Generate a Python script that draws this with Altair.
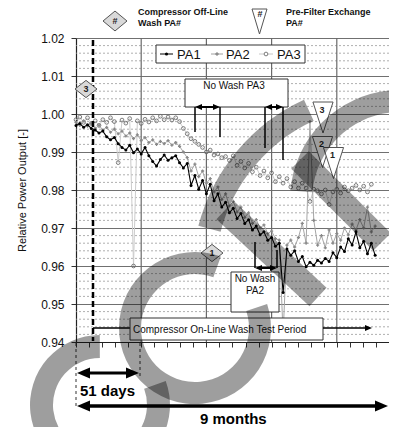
import altair as alt
import pandas as pd

# ---------------- data ----------------
day_pa12 = list(range(0, 235, 3))
pa1 = [0.9970, 0.9975, 0.9965, 0.9972, 0.9962, 0.9958, 0.9950, 0.9955, 0.9940, 0.9932,
       0.9938, 0.9922, 0.9912, 0.9905, 0.9918, 0.9898, 0.9908, 0.9895, 0.9912, 0.9890,
       0.9875, 0.9863, 0.9880, 0.9892, 0.9878, 0.9885, 0.9890, 0.9872, 0.9858, 0.9870,
       0.9812, 0.9838, 0.9802, 0.9825, 0.9790, 0.9815, 0.9772, 0.9790, 0.9755, 0.9768,
       0.9740, 0.9752, 0.9725, 0.9738, 0.9712, 0.9722, 0.9695, 0.9705, 0.9682, 0.9690,
       0.9668, 0.9675, 0.9652, 0.9660, 0.9530, 0.9645, 0.9628, 0.9640, 0.9612, 0.9625,
       0.9598, 0.9610, 0.9602, 0.9615, 0.9608, 0.9620, 0.9612, 0.9635, 0.9622, 0.9650,
       0.9638, 0.9672, 0.9655, 0.9690, 0.9648, 0.9665, 0.9632, 0.9660, 0.9628]
pa2 = [0.9978, 0.9970, 0.9982, 0.9968, 0.9975, 0.9962, 0.9970, 0.9958, 0.9965, 0.9952,
       0.9960, 0.9948, 0.9955, 0.9942, 0.9950, 0.9935, 0.9945, 0.9930, 0.9938, 0.9925,
       0.9932, 0.9920, 0.9928, 0.9922, 0.9930, 0.9918, 0.9925, 0.9915, 0.9900, 0.9885,
       0.9850, 0.9868, 0.9835, 0.9850, 0.9818, 0.9830, 0.9795, 0.9808, 0.9775, 0.9790,
       0.9758, 0.9770, 0.9742, 0.9755, 0.9728, 0.9740, 0.9712, 0.9722, 0.9700, 0.9708,
       0.9685, 0.9692, 0.9672, 0.9668, 0.9420, 0.9655, 0.9668, 0.9650, 0.9675, 0.9712,
       0.9660, 0.9980, 0.9720, 0.9655, 0.9680, 0.9648, 0.9695, 0.9660, 0.9685, 0.9668,
       0.9700, 0.9682, 0.9710, 0.9695, 0.9722, 0.9700, 0.9755, 0.9690, 0.9705]
day_pa3 = list(range(0, 232, 3))
pa3 = [0.9985, 0.9992, 0.9978, 0.9990, 0.9975, 0.9982, 0.9970, 0.9985, 0.9978, 0.9990,
       0.9980, 0.9872, 0.9984, 0.9976, 0.9988, 0.9600, 0.9982, 0.9975, 0.9986, 0.9979,
       0.9990, 0.9982, 0.9994, 0.9985, 0.9992, 0.9984, 0.9990, 0.9980, 0.9962, 0.9948,
       0.9935, 0.9928, 0.9920, 0.9912, 0.9900, 0.9905, 0.9892, 0.9895, 0.9885, 0.9888,
       0.9878, 0.9890, 0.9865, 0.9875, 0.9858, 0.9870, 0.9848, 0.9860, 0.9838, 0.9850,
       0.9832, 0.9845, 0.9822, 0.9835, 0.9818, 0.9830, 0.9808, 0.9822, 0.9805, 0.9818,
       0.9805, 0.9770, 0.9802, 0.9798, 0.9790, 0.9800, 0.9762, 0.9795, 0.9802, 0.9792,
       0.9808, 0.9798, 0.9805, 0.9812, 0.9800, 0.9810, 0.9795, 0.9815]
assert len(pa1) == len(day_pa12) and len(pa2) == len(day_pa12) and len(pa3) == len(day_pa3)

y_major = [0.94, 0.95, 0.96, 0.97, 0.98, 0.99, 1.00, 1.01, 1.02]
y_minor = [round(0.94 + 0.002 * k, 3) for k in range(41) if k % 5]
x_major = [51, 102, 153, 204]
x_ticks = [round(10.2 * k, 1) for k in range(24)]

# ---------------- layout ----------------
FONT = "Liberation Sans"
W, H = 313, 304
X0, Y0 = 76, 38
PX_PER_DAY = 65.2 / 51

xsc = alt.Scale(domain=[0, W / PX_PER_DAY], nice=False, zero=False)
ysc = alt.Scale(domain=[0.94, 1.02], nice=False, zero=False)

x_axis = alt.Axis(values=x_ticks, labels=False, grid=False, ticks=True, tickSize=5,
                  tickColor="#333", tickWidth=1, domainColor="#222", domainWidth=1.2, title=None)
y_axis = alt.Axis(values=y_major, format=".2f", grid=True, gridColor="#707070", gridWidth=1.2,
                  tickSize=5, tickColor="#333", domainColor="#222", domainWidth=1.2,
                  labelFont=FONT, labelFontSize=12, labelColor="#111", labelPadding=7,
                  title="Relative Power Output [-]", titleFont=FONT, titleFontSize=11,
                  titleFontWeight="normal", titleColor="#111", titleX=-54, titleY=152,
                  titleAngle=270, titleAlign="center", titleBaseline="middle")


def X(f):
    return alt.X(f, type="quantitative", scale=xsc, axis=x_axis)


def Y(f):
    return alt.Y(f, type="quantitative", scale=ysc, axis=y_axis)


one = pd.DataFrame({"k": [0]})


def P(x):
    return x - X0


def Q(y):
    return y - Y0


def rule(x1, y1, x2, y2, color="#000", w=1.0, dash=None, opacity=1.0):
    props = dict(color=color, strokeWidth=w, opacity=opacity)
    if dash:
        props["strokeDash"] = dash
    return alt.Chart(one).mark_rule(**props).encode(
        x=alt.value(P(x1)), x2=alt.value(P(x2)), y=alt.value(Q(y1)), y2=alt.value(Q(y2)))


def txt(s, x, y, size=10, weight="normal", align="left", color="#111"):
    return alt.Chart(one).mark_text(text=s, font=FONT, fontSize=size, fontWeight=weight,
                                    align=align, baseline="middle", color=color).encode(
        x=alt.value(P(x)), y=alt.value(Q(y)))


def shape(path, x, y, size, fill, stroke="#555", sw=1.0):
    return alt.Chart(one).mark_point(shape=path, size=size, filled=True, fill=fill, stroke=stroke,
                                     strokeWidth=sw, opacity=1, fillOpacity=1).encode(
        x=alt.value(P(x)), y=alt.value(Q(y)))


def box(x1, y1, x2, y2, fill="white", stroke="#333", sw=1.0):
    return alt.Chart(one).mark_rect(fill=fill, stroke=stroke, strokeWidth=sw, opacity=1).encode(
        x=alt.value(P(x1)), x2=alt.value(P(x2)), y=alt.value(Q(y1)), y2=alt.value(Q(y2)))


WM_COLOR, WM_OP = "#000000", 0.38


def ring(cx, cy, r1, r2, t1, t2):
    return alt.Chart(one).mark_arc(radius=r2, radius2=r1, theta=t1, theta2=t2,
                                   color=WM_COLOR, opacity=WM_OP).encode(
        x=alt.value(P(cx)), y=alt.value(Q(cy)))


def band(x1, y1, x2, y2, w):
    return alt.Chart(one).mark_rule(color=WM_COLOR, opacity=WM_OP, strokeWidth=w,
                                    strokeCap="butt").encode(
        x=alt.value(P(x1)), x2=alt.value(P(x2)), y=alt.value(Q(y1)), y2=alt.value(Q(y2)))


HEAD_R = "M1,0L-1,-0.85L-1,0.85Z"
HEAD_L = "M-1,0L1,-0.85L1,0.85Z"
DIAM_TOP = "M0,-0.83L1,0L0,0.83L-1,0Z"
DIAM = "M0,-0.78L1,0L0,0.78L-1,0Z"
TRI_TOP = "M-0.6,-1L0.6,-1L0,1Z"
TRI = "M-0.65,-1L0.65,-1L0,1Z"


def harrow(x1, x2, y, w, r, left=True):
    s = (2 * r) ** 2
    out = [rule(x1 + (r if left else 0), y, x2 - r, y, "#000", w),
           shape(HEAD_R, x2 - r, y, s, "#000", "#000", 0)]
    if left:
        out.append(shape(HEAD_L, x1 + r, y, s, "#000", "#000", 0))
    return out


# ---------------- data layers ----------------
df12 = pd.DataFrame({"day": day_pa12, "PA1": pa1, "PA2": pa2})
df3 = pd.DataFrame({"day": day_pa3, "PA3": pa3})
dmin = pd.DataFrame({"v": y_minor})
dvg = pd.DataFrame({"g": x_major})

layers = [
    alt.Chart(df12).mark_line(color="#000000", strokeWidth=1.1, opacity=0).encode(
        x=X("day"), y=Y("PA1")),
    alt.Chart(dmin).mark_rule(color="#9a9a9a", strokeWidth=0.8, strokeDash=[2, 2]).encode(y=Y("v")),
    alt.Chart(dvg).mark_rule(color="#6a6a6a", strokeWidth=1.2).encode(x=X("g")),
    alt.Chart(df3).mark_line(color="#cccccc", strokeWidth=1).encode(x=X("day"), y=Y("PA3")),
    alt.Chart(df3).mark_point(shape="circle", filled=False, color="#6e6e6e", strokeWidth=0.9,
                              size=14, opacity=1).encode(x=X("day"), y=Y("PA3")),
    alt.Chart(df12).mark_line(color="#a6a6a6", strokeWidth=1).encode(x=X("day"), y=Y("PA2")),
    alt.Chart(df12).mark_point(shape="cross", filled=True, color="#888888", size=10,
                               opacity=1).encode(x=X("day"), y=Y("PA2")),
    alt.Chart(df12).mark_line(color="#000000", strokeWidth=1.1).encode(x=X("day"), y=Y("PA1")),
    alt.Chart(df12).mark_point(shape="circle", filled=True, color="#000000", size=9,
                               opacity=1).encode(x=X("day"), y=Y("PA1")),
]

# ---------------- annotations ----------------
ann = []
# top key
ann += [shape(DIAM_TOP, 115, 21, 576, "#d9d9d9"), txt("#", 115, 21, 9, "bold", "center", "#222"),
        txt("Compressor Off-Line", 138, 12, 9, "bold"), txt("Wash PA#", 138, 22.5, 9, "bold"),
        shape(TRI_TOP, 259.5, 21.5, 625, "white"), txt("#", 260, 13.5, 9, "bold", "center", "#222"),
        txt("Pre-Filter Exchange", 286, 12, 9, "bold"), txt("PA#", 286, 22.5, 9, "bold")]
# legend box
ann += [box(156, 45, 305, 63),
        rule(160, 54, 173, 54, "#000", 1), shape("circle", 166.5, 54, 10, "#000", "#000", 0),
        txt("PA1", 177, 54.5, 13),
        rule(211, 54, 223, 54, "#a0a0a0", 1), shape("cross", 217, 54, 12, "#888", "#888", 0),
        txt("PA2", 226, 54.5, 13),
        rule(259, 54, 273, 54, "#c8c8c8", 1), shape("circle", 266, 54, 14, "white", "#6e6e6e", 0.9),
        txt("PA3", 277, 54.5, 13)]
# dashed start line
ann += [rule(93, 40, 93, 341, "#000", 2.5, [6, 3])]
# compressor off-line wash diamonds
ann += [shape(DIAM, 86, 89, 484, "#d9d9d9"), txt("3", 86, 89, 9, "bold", "center", "#222"),
        shape(DIAM, 212, 253, 484, "#d9d9d9"), txt("1", 212, 253, 9, "bold", "center", "#222")]
# No Wash PA3
ann += [box(185, 79, 288, 107), txt("No Wash PA3", 234, 86, 10, "normal", "center"),
        rule(195, 107, 195, 132, "#000", 1.5), rule(220, 107, 220, 137, "#000", 1.5),
        rule(265, 107, 265, 148, "#000", 1.5), rule(283, 107, 283, 160, "#000", 1.5)]
ann += harrow(195, 220, 107, 2, 3.5)
ann += harrow(265, 283, 107, 2, 3.5)
# pre-filter exchange triangles
ann += [shape(TRI, 323, 117.5, 961, "white"), txt("3", 322, 109.5, 9, "bold", "center", "#222"),
        shape(TRI, 322.5, 152, 961, "white"), txt("2", 321.5, 144, 9, "bold", "center", "#222"),
        shape(TRI, 333.5, 163, 961, "white"), txt("1", 332.5, 155, 9, "bold", "center", "#222")]
# No Wash PA2
ann += [rule(255, 242, 255, 268, "#000", 1.5), rule(277, 250, 277, 268, "#000", 1.5)]
ann += harrow(255, 277, 268, 2, 3.5)
ann += [box(231, 272, 279, 312), txt("No Wash", 255, 278.5, 10, "normal", "center"),
        txt("PA2", 255, 291, 10, "normal", "center")]
# test period
ann += [rule(93, 333, 93, 328, "#000", 1.5), rule(93, 328, 130, 328, "#000", 1.5),
        box(130, 318, 323, 340), txt("Compressor On-Line Wash Test Period", 133, 329.5, 10)]
ann += harrow(323, 372, 328, 1.5, 3.5, left=False)
# below the axis
ann += [rule(76, 343, 76, 408, "#333", 1, [3, 3]), rule(140, 343, 140, 377, "#333", 1, [3, 3])]
ann += harrow(77, 139, 373, 3, 6.5)
ann += [txt("51 days", 80, 391, 15, "bold", "left", "#000")]
ann += harrow(77, 388, 406, 3.5, 6.5)
ann += [txt("9 months", 200, 419, 15, "bold", "left", "#000")]

# ---------------- watermark overlay ----------------
wm = [
    ring(100, 405, 47, 70, 1.22, 6.28),
    ring(195, 328, 54, 76, 1.25, 6.63),
    ring(385, 275, 170, 193, 4.97, 5.85),
    ring(400, 200, 88, 110, 4.80, 6.20),
    band(300, 160, 382, 242, 25),
    band(225, 210, 318, 297, 25),
]

chart = alt.layer(*(layers + ann + wm)).properties(
    width=W, height=H,
    padding={"left": 68, "top": 30, "right": 0, "bottom": 85},
    autosize=alt.AutoSizeParams(type="none"),
    background="white",
).configure_view(strokeOpacity=0)

chart.save("out.html", embed_options={"renderer": "svg", "actions": False})
